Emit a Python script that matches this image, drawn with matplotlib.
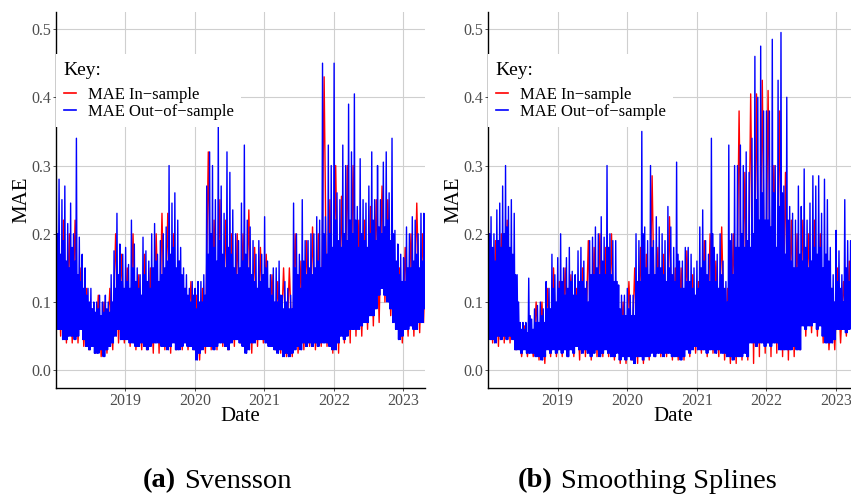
import numpy as np
import matplotlib
matplotlib.use("Agg")
import matplotlib.pyplot as plt

plt.rcParams['font.family'] = ['Liberation Serif', 'DejaVu Serif']

# half-month peaks / troughs (Jan 2018 .. Apr 2023)
sv_out_hi = [0.37, 0.28, 0.25, 0.27, 0.215, 0.245, 0.2, 0.34, 0.195, 0.17,
             0.15, 0.12, 0.12, 0.10, 0.10, 0.11, 0.10, 0.11, 0.10, 0.14,
             0.175, 0.23, 0.185, 0.17, 0.18, 0.155, 0.22, 0.185, 0.15, 0.14,
             0.195, 0.175, 0.16, 0.20, 0.215, 0.17, 0.19, 0.20, 0.21, 0.30,
             0.245, 0.26, 0.22, 0.18, 0.15, 0.14, 0.12, 0.13, 0.12, 0.13,
             0.13, 0.14, 0.27, 0.32, 0.30, 0.25, 0.36, 0.27, 0.23, 0.32,
             0.29, 0.235, 0.20, 0.19, 0.245, 0.33, 0.22, 0.21, 0.19, 0.17,
             0.19, 0.17, 0.225, 0.16, 0.14, 0.15, 0.15, 0.16, 0.11, 0.13,
             0.12, 0.11, 0.245, 0.20, 0.17, 0.25, 0.19, 0.19, 0.20, 0.20,
             0.225, 0.22, 0.45, 0.225, 0.33, 0.30, 0.45, 0.26, 0.25, 0.33,
             0.30, 0.39, 0.32, 0.405, 0.24, 0.31, 0.25, 0.245, 0.27, 0.32,
             0.25, 0.30, 0.25, 0.305, 0.32, 0.26, 0.34, 0.205, 0.185, 0.17,
             0.165, 0.21, 0.20, 0.225, 0.22, 0.20, 0.23, 0.23]
sv_out_lo = [0.06, 0.06, 0.045, 0.045, 0.05, 0.05, 0.045, 0.05, 0.06, 0.045,
             0.035, 0.03, 0.035, 0.025, 0.025, 0.03, 0.02, 0.03, 0.035, 0.04,
             0.05, 0.06, 0.045, 0.045, 0.045, 0.04, 0.04, 0.035, 0.035, 0.04,
             0.035, 0.03, 0.035, 0.04, 0.04, 0.04, 0.035, 0.035, 0.03, 0.035,
             0.04, 0.03, 0.03, 0.035, 0.04, 0.035, 0.035, 0.03, 0.015, 0.025,
             0.03, 0.035, 0.035, 0.035, 0.03, 0.035, 0.04, 0.04, 0.035, 0.03,
             0.04, 0.045, 0.045, 0.04, 0.035, 0.025, 0.03, 0.04, 0.04, 0.045,
             0.045, 0.045, 0.04, 0.035, 0.035, 0.03, 0.025, 0.03, 0.02, 0.025,
             0.02, 0.025, 0.03, 0.035, 0.03, 0.04, 0.035, 0.04, 0.035, 0.04,
             0.035, 0.04, 0.04, 0.04, 0.035, 0.03, 0.03, 0.04, 0.05, 0.045,
             0.05, 0.06, 0.06, 0.06, 0.06, 0.065, 0.07, 0.07, 0.08, 0.08,
             0.09, 0.11, 0.12, 0.11, 0.10, 0.09, 0.07, 0.06, 0.045, 0.05,
             0.06, 0.06, 0.065, 0.06, 0.06, 0.07, 0.07, 0.09]
# second-tier spikes inside the dense band
sv_out_mid = [0.2, 0.17, 0.19, 0.16, 0.15, 0.18, 0.16, 0.14, 0.13, 0.12,
              0.11, 0.1, 0.09, 0.085, 0.09, 0.08, 0.085, 0.09, 0.085, 0.1,
              0.12, 0.14, 0.13, 0.12, 0.13, 0.12, 0.15, 0.13, 0.12, 0.11,
              0.14, 0.13, 0.12, 0.15, 0.16, 0.13, 0.14, 0.15, 0.16, 0.17,
              0.18, 0.15, 0.16, 0.14, 0.12, 0.11, 0.1, 0.11, 0.09, 0.1,
              0.1, 0.11, 0.17, 0.2, 0.18, 0.16, 0.19, 0.17, 0.15, 0.18,
              0.17, 0.15, 0.14, 0.15, 0.16, 0.17, 0.15, 0.14, 0.13, 0.12,
              0.13, 0.14, 0.15, 0.12, 0.11, 0.1, 0.1, 0.11, 0.09, 0.1,
              0.09, 0.09, 0.15, 0.14, 0.12, 0.16, 0.14, 0.15, 0.14, 0.15,
              0.16, 0.15, 0.2, 0.17, 0.2, 0.18, 0.22, 0.19, 0.18, 0.2,
              0.19, 0.22, 0.2, 0.22, 0.18, 0.2, 0.19, 0.18, 0.2, 0.22,
              0.19, 0.21, 0.2, 0.21, 0.22, 0.19, 0.2, 0.16, 0.14, 0.13,
              0.13, 0.15, 0.15, 0.16, 0.17, 0.15, 0.16, 0.17]
# monthly peaks / troughs of the in-sample series
sv_in_hi = [0.20, 0.22, 0.20, 0.22, 0.15, 0.12, 0.09, 0.11, 0.10, 0.12, 0.20, 0.17,
            0.15, 0.20, 0.14, 0.17, 0.15, 0.20, 0.23, 0.23, 0.20, 0.16, 0.12, 0.13,
            0.11, 0.12, 0.32, 0.22, 0.25, 0.22, 0.20, 0.20, 0.20, 0.235, 0.18, 0.18,
            0.17, 0.14, 0.13, 0.15, 0.15, 0.20, 0.16, 0.19, 0.21, 0.20, 0.43, 0.25,
            0.30, 0.255, 0.30, 0.30, 0.22, 0.22, 0.24, 0.25, 0.27, 0.25, 0.18, 0.15,
            0.18, 0.20, 0.245, 0.20]
sv_in_lo = [0.05, 0.04, 0.04, 0.04, 0.035, 0.03, 0.025, 0.02, 0.025, 0.03, 0.04, 0.04,
            0.035, 0.03, 0.03, 0.03, 0.025, 0.025, 0.03, 0.025, 0.03, 0.03, 0.03, 0.03,
            0.015, 0.025, 0.03, 0.03, 0.035, 0.03, 0.035, 0.04, 0.03, 0.025, 0.035, 0.04,
            0.035, 0.03, 0.025, 0.02, 0.02, 0.025, 0.03, 0.035, 0.03, 0.035, 0.035, 0.025,
            0.025, 0.04, 0.04, 0.05, 0.05, 0.06, 0.065, 0.07, 0.10, 0.08, 0.065, 0.04,
            0.05, 0.05, 0.055, 0.07]

ss_out_hi = [0.265, 0.225, 0.2, 0.235, 0.245, 0.27, 0.3, 0.24, 0.25, 0.23,
             0.14, 0.07, 0.07, 0.07, 0.135, 0.075, 0.09, 0.095, 0.1, 0.09,
             0.13, 0.12, 0.17, 0.14, 0.165, 0.2, 0.15, 0.165, 0.18, 0.145,
             0.14, 0.175, 0.18, 0.16, 0.13, 0.19, 0.195, 0.21, 0.2, 0.225,
             0.195, 0.3, 0.2, 0.19, 0.19, 0.125, 0.11, 0.11, 0.12, 0.11,
             0.11, 0.2, 0.19, 0.35, 0.21, 0.19, 0.3, 0.19, 0.225, 0.21,
             0.2, 0.19, 0.24, 0.21, 0.18, 0.305, 0.16, 0.16, 0.18, 0.18,
             0.17, 0.15, 0.16, 0.21, 0.235, 0.19, 0.17, 0.34, 0.18, 0.17,
             0.2, 0.16, 0.13, 0.33, 0.2, 0.3, 0.3, 0.33, 0.3, 0.32,
             0.29, 0.34, 0.46, 0.4, 0.475, 0.38, 0.38, 0.38, 0.485, 0.3,
             0.425, 0.495, 0.27, 0.4, 0.24, 0.23, 0.22, 0.27, 0.24, 0.295,
             0.22, 0.245, 0.285, 0.27, 0.285, 0.23, 0.28, 0.25, 0.18, 0.14,
             0.205, 0.175, 0.14, 0.25, 0.19, 0.19, 0.2, 0.18]
ss_out_lo = [0.045, 0.045, 0.04, 0.05, 0.045, 0.05, 0.045, 0.05, 0.045, 0.03,
             0.03, 0.025, 0.03, 0.025, 0.025, 0.025, 0.02, 0.02, 0.015, 0.02,
             0.03, 0.025, 0.03, 0.025, 0.03, 0.025, 0.03, 0.02, 0.03, 0.025,
             0.035, 0.03, 0.025, 0.03, 0.025, 0.02, 0.025, 0.03, 0.02, 0.025,
             0.03, 0.025, 0.02, 0.02, 0.025, 0.015, 0.02, 0.015, 0.02, 0.015,
             0.01, 0.02, 0.02, 0.015, 0.02, 0.02, 0.025, 0.02, 0.025, 0.025,
             0.02, 0.025, 0.025, 0.02, 0.02, 0.02, 0.015, 0.02, 0.03, 0.025,
             0.03, 0.035, 0.03, 0.03, 0.03, 0.025, 0.03, 0.03, 0.025, 0.03,
             0.025, 0.025, 0.02, 0.02, 0.015, 0.02, 0.02, 0.02, 0.025, 0.02,
             0.04, 0.04, 0.035, 0.04, 0.04, 0.035, 0.04, 0.035, 0.04, 0.04,
             0.03, 0.03, 0.03, 0.03, 0.03, 0.035, 0.03, 0.03, 0.065, 0.06,
             0.065, 0.065, 0.07, 0.06, 0.065, 0.05, 0.04, 0.04, 0.04, 0.045,
             0.06, 0.06, 0.06, 0.055, 0.06, 0.065, 0.06, 0.06]
ss_out_mid = [0.2, 0.18, 0.16, 0.19, 0.18, 0.2, 0.21, 0.18, 0.17, 0.14,
              0.1, 0.06, 0.06, 0.055, 0.08, 0.06, 0.07, 0.07, 0.08, 0.07,
              0.09, 0.09, 0.12, 0.1, 0.12, 0.13, 0.11, 0.12, 0.13, 0.11,
              0.11, 0.13, 0.13, 0.12, 0.1, 0.14, 0.14, 0.15, 0.14, 0.16,
              0.14, 0.18, 0.14, 0.13, 0.13, 0.09, 0.08, 0.08, 0.09, 0.08,
              0.08, 0.13, 0.13, 0.2, 0.15, 0.14, 0.18, 0.14, 0.15, 0.15,
              0.14, 0.13, 0.15, 0.14, 0.13, 0.17, 0.12, 0.12, 0.13, 0.13,
              0.12, 0.11, 0.12, 0.15, 0.16, 0.14, 0.13, 0.2, 0.13, 0.12,
              0.14, 0.12, 0.1, 0.19, 0.14, 0.18, 0.18, 0.2, 0.18, 0.19,
              0.18, 0.2, 0.25, 0.22, 0.26, 0.22, 0.22, 0.21, 0.26, 0.18,
              0.24, 0.26, 0.17, 0.22, 0.16, 0.15, 0.15, 0.17, 0.16, 0.18,
              0.15, 0.16, 0.18, 0.17, 0.18, 0.15, 0.17, 0.16, 0.12, 0.1,
              0.13, 0.12, 0.1, 0.15, 0.13, 0.13, 0.13, 0.12]
ss_in_hi = [0.20, 0.19, 0.20, 0.22, 0.15, 0.07, 0.065, 0.07, 0.10, 0.10, 0.12, 0.15,
            0.13, 0.15, 0.14, 0.12, 0.15, 0.19, 0.18, 0.20, 0.18, 0.20, 0.12, 0.10,
            0.13, 0.15, 0.18, 0.17, 0.285, 0.18, 0.17, 0.225, 0.15, 0.15, 0.175, 0.14,
            0.13, 0.19, 0.20, 0.16, 0.21, 0.12, 0.20, 0.38, 0.29, 0.405, 0.405, 0.425,
            0.41, 0.30, 0.38, 0.29, 0.22, 0.20, 0.22, 0.20, 0.22, 0.20, 0.17, 0.12,
            0.15, 0.13, 0.16, 0.15]
ss_in_lo = [0.04, 0.035, 0.04, 0.04, 0.03, 0.02, 0.02, 0.02, 0.015, 0.01, 0.02, 0.02,
            0.02, 0.02, 0.02, 0.015, 0.02, 0.015, 0.02, 0.02, 0.02, 0.015, 0.01, 0.01,
            0.015, 0.01, 0.01, 0.015, 0.02, 0.02, 0.02, 0.015, 0.015, 0.015, 0.02, 0.025,
            0.025, 0.02, 0.025, 0.02, 0.015, 0.01, 0.01, 0.015, 0.015, 0.01, 0.02, 0.025,
            0.02, 0.025, 0.02, 0.015, 0.02, 0.03, 0.05, 0.055, 0.05, 0.04, 0.03, 0.03,
            0.04, 0.05, 0.05, 0.05]

year_ticks = [2019, 2020, 2021, 2022, 2023]
captions = [("(a)", "Svensson"), ("(b)", "Smoothing Splines")]

W, H = 851, 494
fig = plt.figure(figsize=(W / 100, H / 100), dpi=100)


def trace_out(hi, lo, mid):
    n = len(hi)
    t = 2018 + (np.arange(n)[:, None] + np.array([0.05, 0.3, 0.55, 0.8])) / 24
    v = np.column_stack([hi, lo, mid, lo])
    return t.ravel(), v.ravel()


def trace_in(hi, lo):
    n = len(hi)
    t = 2018 + (np.arange(n)[:, None] + np.array([0.3, 0.8])) / 12
    v = np.column_stack([hi, lo])
    return t.ravel(), v.ravel()


def panel(left_px, right_px, out_hi, out_lo, mid, in_hi, in_lo):
    ax = fig.add_axes([left_px / W, (H - 388) / H, (right_px - left_px) / W, (388 - 12) / H])
    x, y = trace_in(in_hi, in_lo)
    ax.plot(x, y, color='#ff0000', lw=1.0, label='MAE In\u2212sample')
    x, y = trace_out(out_hi, out_lo, mid)
    ax.plot(x, y, color='#0000ff', lw=1.0, label='MAE Out\u2212of\u2212sample')
    ax.set_xlim(2018.0, 2023.31)
    ax.set_ylim(-0.026, 0.525)
    ax.set_xticks(year_ticks)
    ax.set_xticklabels([str(v) for v in year_ticks])
    ax.set_yticks([0.0, 0.1, 0.2, 0.3, 0.4, 0.5])
    ax.set_yticklabels(['0.0', '0.1', '0.2', '0.3', '0.4', '0.5'])
    ax.grid(True, color='#cfcfcf', lw=0.8)
    ax.set_axisbelow(True)
    for s in ['top', 'right']:
        ax.spines[s].set_visible(False)
    for s in ['left', 'bottom']:
        ax.spines[s].set_linewidth(1.0)
        ax.spines[s].set_color('black')
    ax.tick_params(axis='both', length=2.5, width=0.6, color='#333333',
                   labelcolor='#4d4d4d', labelsize=11.5, pad=1)
    ax.set_xlabel('Date', fontsize=15, labelpad=-1)
    ax.set_ylabel('MAE', fontsize=15, labelpad=0)
    leg = ax.legend(title='Key:', loc='upper left', bbox_to_anchor=(0.0, 0.888),
                    frameon=True, fancybox=False, facecolor='white', edgecolor='none',
                    framealpha=1, fontsize=12, title_fontsize=14, alignment='left',
                    handlelength=0.75, handletextpad=0.7, labelspacing=0.05,
                    borderpad=0.45, borderaxespad=0)
    leg._legend_box.sep = 6
    for line in leg.get_lines():
        line.set_linewidth(1.2)
    return ax


panel(56, 425, sv_out_hi, sv_out_lo, sv_out_mid, sv_in_hi, sv_in_lo)
panel(488, 857.5, ss_out_hi, ss_out_lo, ss_out_mid, ss_in_hi, ss_in_lo)

cap_y = 1 - 481 / H
fig.text(143 / W, cap_y, captions[0][0], fontsize=20.5, fontweight='bold', ha='left', va='center')
fig.text(184 / W, cap_y, captions[0][1], fontsize=20.5, ha='left', va='center')
fig.text(518 / W, cap_y, captions[1][0], fontsize=20.5, fontweight='bold', ha='left', va='center')
fig.text(561 / W, cap_y, captions[1][1], fontsize=20.5, ha='left', va='center')

fig.savefig('out.png', dpi=100)
